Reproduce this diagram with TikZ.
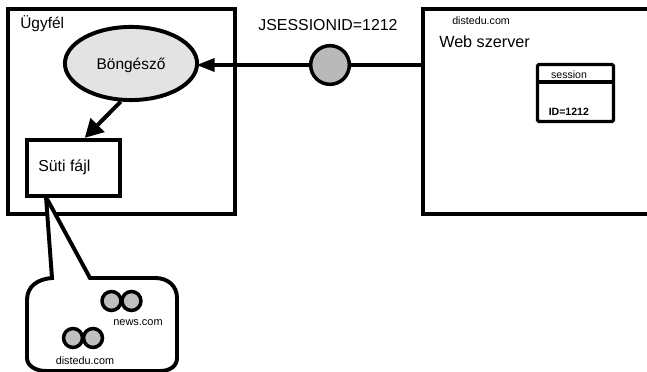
\documentclass[tikz,border=0pt]{standalone}
\usepackage{fontspec}
\setmainfont{Liberation Sans}
\usetikzlibrary{arrows.meta,shapes.geometric,positioning}
\tikzset{
  vonal/.style={line width=2.8pt,draw=black},
  doboz/.style={vonal,fill=white,rectangle,inner sep=0pt},
  ter/.style={vonal,fill=white},
  suti/.style={circle,draw=black,line width=2.5pt,fill=gray!50,minimum size=13.5pt,inner sep=0pt},
  nyil/.style={vonal,-{Triangle[length=13pt,width=#1]}},
  nyil/.default=9pt,
  cimke/.style={inner sep=0pt,font=\fontsize{#1}{#1}\selectfont,text=black},
  cimke/.default=11
}
\begin{document}
\begin{tikzpicture}[x=0.025cm,y=-0.025cm]
\useasboundingbox (0,0) rectangle (647,372);
% ablakok
\begin{scope}
\clip (0,0) rectangle (647,372);
\draw[ter] (8,9) rectangle (235,214);
\draw[ter] (423,9) rectangle (660,214);
% buborek
\draw[ter] (46,197) -- (52,278) .. controls (38,279) and (27,286) .. (27,300)
 -- (27,358) .. controls (27,366) and (36,371) .. (46,371) -- (160,371)
 .. controls (170,371) and (177,366) .. (177,358) -- (177,298)
 .. controls (177,286) and (168,278) .. (155,278) -- (90,278) -- cycle;
\end{scope}
\node[doboz,minimum width=66pt,minimum height=40pt] (fajl) at (73.5,168) {};
\node[ellipse,vonal,fill=gray!22,minimum width=94pt,minimum height=52pt,inner sep=0pt] (bongeszo) at (131,63.5) {};
\node[cimke=11] at (131,65) {Böngésző};
\node[cimke=11.3,anchor=west] at (38,167) {Süti fájl};
\node[cimke=11,anchor=west] (ugyfel) at (20,24) {Ügyfél};
\node[cimke=11.3] at (328,25) {JSESSIONID=1212};
\node[cimke=11.5,anchor=west] (web) at (439,42) {Web szerver};
\node[cimke=7.6,anchor=west] (dist) at (452,21) {distedu.com};
% munkamenet
\node[doboz,minimum width=54pt,minimum height=40.5pt,rounded corners=1pt,line width=2.3pt] (sess) at (575.5,93) {};
\draw[line width=2.3pt] (sess.west |- 0,82) coordinate (s1) -- (sess.east |- 0,82) coordinate (s2);
\node[cimke=7.5] at (569,75) {session};
\node[cimke=7.5,font=\fontsize{7.5}{7.5}\selectfont\bfseries,anchor=west] at (548.5,112) {ID=1212};
% kapcsolat
\coordinate (szerver) at (423,65);
\node[suti,minimum size=27.5pt,fill=gray!55] (kor) at (330,65) {};
\draw[vonal] (szerver) -- (kor);
\draw[nyil,shorten >=-2pt] (kor) -- (bongeszo.east |- kor);
\draw[nyil=13.5pt] (bongeszo.255) -- ([xshift=8pt]fajl.north);
% sutik
\node[suti] (n1) at (111.5,301) {};
\node[suti] (n2) at (131.5,301) {};
\node[cimke=7.8] at (138,323) {news.com};
\node[suti] (d1) at (73,338) {};
\node[suti] (d2) at (93,338) {};
\node[cimke=7.7] at (85,361) {distedu.com};
\end{tikzpicture}
\end{document}
